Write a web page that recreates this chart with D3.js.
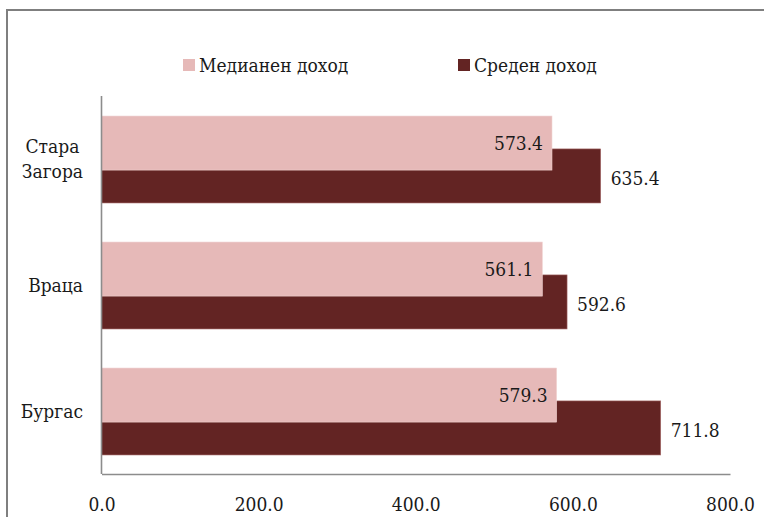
<!DOCTYPE html>
<html>
<head>
<meta charset="utf-8">
<script src="https://cdn.jsdelivr.net/npm/d3@7/dist/d3.min.js"></script>
<style>
  html, body { margin: 0; padding: 0; background: #fff; }
  svg text { font-family: "DejaVu Serif Condensed", "DejaVu Serif", serif; fill: #1a1a1a; }
</style>
</head>
<body>
<svg id="chart" width="764" height="517"></svg>
<script>
// ---- data ----
const categories = ["Стара Загора", "Враца", "Бургас"];
const seriesNames = ["Медианен доход", "Среден доход"];
const medianIncome = [573.4, 561.1, 579.3];
const meanIncome = [635.4, 592.6, 711.8];
const xTicks = [0, 200, 400, 600, 800];
const colors = ["#E6B9B8", "#632423"];

const svg = d3.select("#chart");
const W = 764, H = 517;
const plot = { left: 101.5, right: 730, top: 96, bottom: 474 };
const fontSize = 19;

// outer frame (top and left edges visible)
svg.append("path")
  .attr("d", `M7,${H + 5}V10H${W + 5}`)
  .attr("fill", "none").attr("stroke", "#7f7f7f").attr("stroke-width", 2);

const x = d3.scaleLinear().domain([0, 800]).range([plot.left, plot.right]);
const y = d3.scaleBand().domain(categories).range([plot.top, plot.bottom]).padding(0);
const bw = y.bandwidth();
const barH = bw * 0.429;
const offsets = [bw * 0.159, bw * 0.42]; // light bar drawn over dark bar (overlap)

const rows = categories.map((c, i) => ({ c, vals: [medianIncome[i], meanIncome[i]] }));

// draw dark (mean) first, then light (median) on top
[1, 0].forEach(s => {
  svg.append("g").selectAll("rect").data(rows).join("rect")
    .attr("x", x(0))
    .attr("y", d => y(d.c) + offsets[s])
    .attr("width", d => x(d.vals[s]) - x(0))
    .attr("height", barH)
    .attr("fill", colors[s])
    .attr("stroke", s === 1 ? "#a86b6a" : "#f0d2d1")
    .attr("stroke-width", 0.6);
});

// data labels
const fmt = d3.format(".1f");
svg.append("g").selectAll("text").data(rows).join("text")
  .attr("x", d => x(d.vals[0]) - 9)
  .attr("y", d => y(d.c) + offsets[0] + barH / 2)
  .attr("dy", "0.35em")
  .attr("text-anchor", "end")
  .attr("font-size", fontSize)
  .text(d => fmt(d.vals[0]));
svg.append("g").selectAll("text").data(rows).join("text")
  .attr("x", d => x(d.vals[1]) + 10)
  .attr("y", d => y(d.c) + offsets[1] + barH / 2 + 2)
  .attr("dy", "0.35em")
  .attr("text-anchor", "start")
  .attr("font-size", fontSize)
  .text(d => fmt(d.vals[1]));

// axes
const xAxis = d3.axisBottom(x).tickValues(xTicks).tickFormat(d3.format(".1f")).tickSize(0).tickPadding(24);
const gx = svg.append("g").attr("transform", `translate(0,${plot.bottom})`).call(xAxis);
gx.select(".domain").attr("stroke", "#8c8c8c").attr("stroke-width", 1.6);
gx.selectAll("text").attr("font-size", fontSize).attr("fill", "#1a1a1a");

svg.append("line")
  .attr("x1", plot.left).attr("x2", plot.left)
  .attr("y1", plot.top).attr("y2", plot.bottom)
  .attr("stroke", "#8c8c8c").attr("stroke-width", 1.6);

// category labels (multi-line, centered block right-aligned near axis)
const labelRight = 83;
categories.forEach(c => {
  const lines = c.split(" ");
  const cy = y(c) + bw / 2;
  const lh = 25;
  const g = svg.append("g");
  const texts = lines.map((ln, i) => g.append("text")
    .attr("y", cy + (i - (lines.length - 1) / 2) * lh)
    .attr("dy", "0.35em")
    .attr("text-anchor", "middle")
    .attr("font-size", fontSize)
    .text(ln));
  const maxW = d3.max(texts, t => t.node().getComputedTextLength());
  texts.forEach(t => t.attr("x", labelRight - maxW / 2));
});

// legend
const legendX = [183, 458];
seriesNames.forEach((name, i) => {
  const g = svg.append("g").attr("transform", `translate(${legendX[i]},59)`);
  g.append("rect").attr("width", 12).attr("height", 12).attr("fill", colors[i]);
  g.append("text").attr("x", 16).attr("y", 6).attr("dy", "0.35em")
    .attr("font-size", fontSize).text(name);
});
</script>
</body>
</html>
